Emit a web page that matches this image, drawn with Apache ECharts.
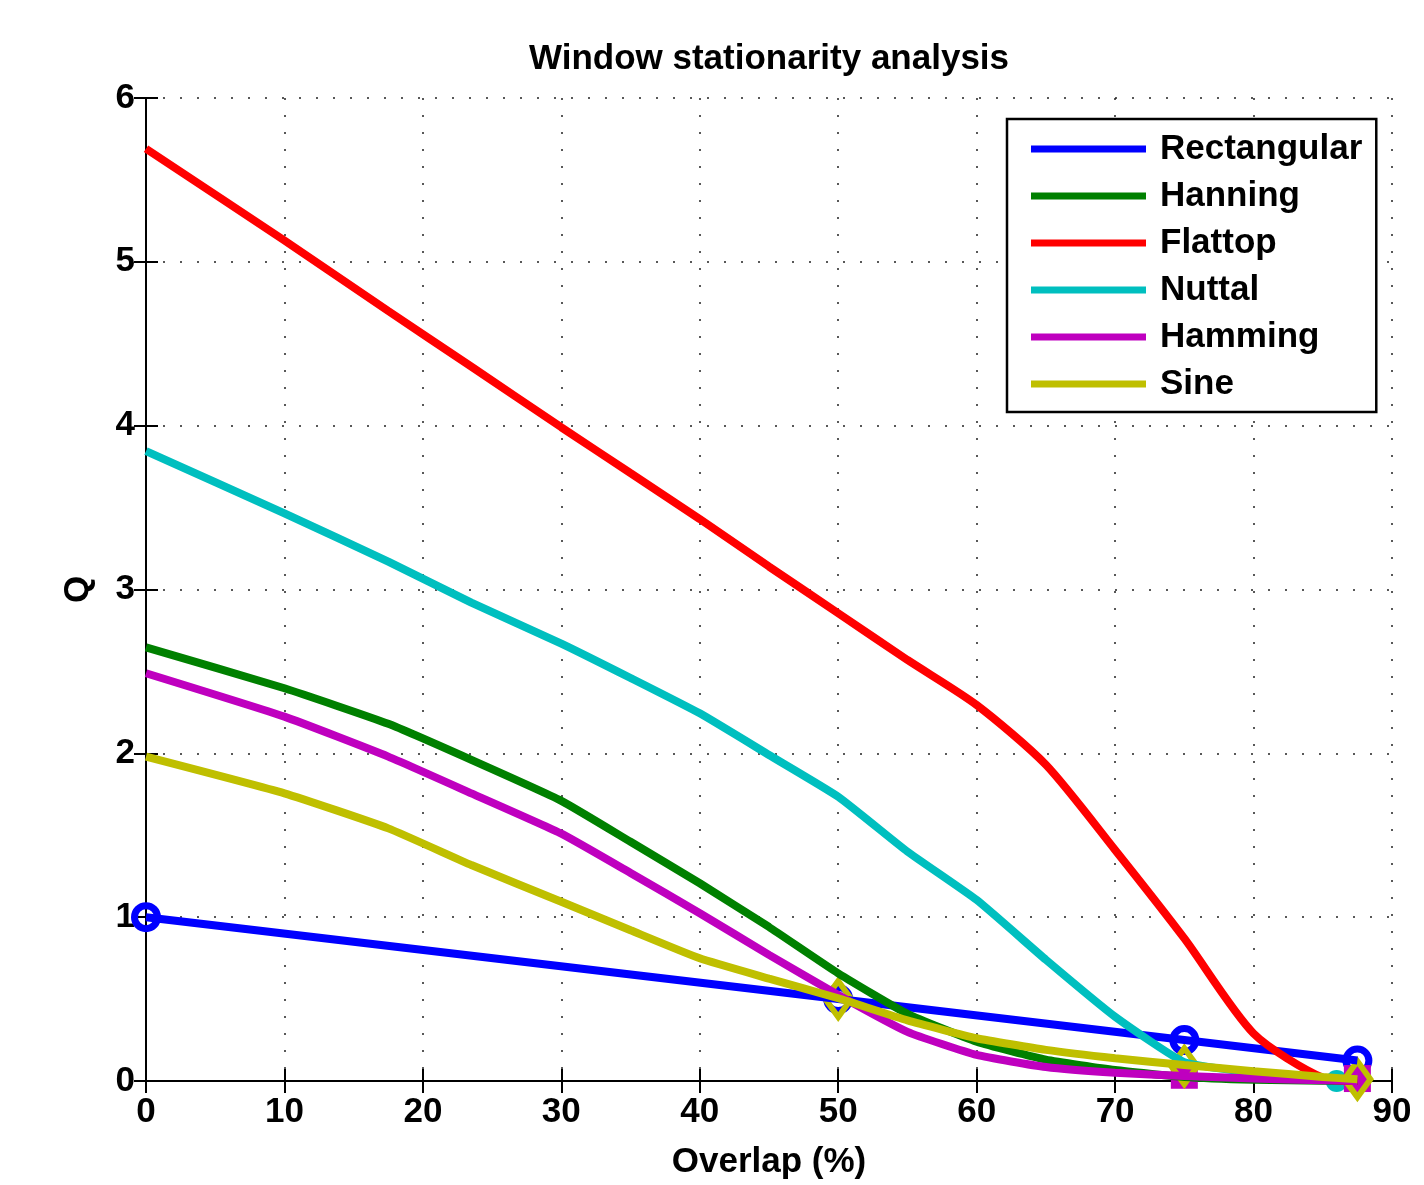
<!DOCTYPE html>
<html>
<head>
<meta charset="utf-8">
<script src="https://cdn.jsdelivr.net/npm/echarts@6/dist/echarts.min.js"></script>
<style>
  html, body { margin: 0; padding: 0; background: #fff; }
  #main { width: 1424px; height: 1185px; }
</style>
</head>
<body>
<div id="main"></div>
<script>
// overlap values (%) where the curves were read
var overlap = [0, 10, 17.5, 23.5, 30, 35, 40, 45, 50, 55, 60, 65, 70, 75, 80, 85, 87.5];

var rectX = [0, 50, 75, 87.5];
var rectQ = [1, 0.5, 0.25, 0.125];
var hanningQ = [2.647, 2.397, 2.18, 1.96, 1.71, 1.46, 1.207, 0.94, 0.657, 0.41, 0.24, 0.13, 0.067, 0.025, 0.008, 0.002, 0];
var flattopQ = [5.69, 5.13, 4.70, 4.36, 3.99, 3.71, 3.43, 3.14, 2.855, 2.57, 2.295, 1.93, 1.41, 0.87, 0.29, 0.02, 0];
var nuttalQ = [3.845, 3.465, 3.17, 2.92, 2.67, 2.46, 2.244, 1.99, 1.735, 1.40, 1.105, 0.74, 0.392, 0.115, 0.05, 0.01, null];
var hammingQ = [2.489, 2.224, 1.98, 1.756, 1.51, 1.27, 1.024, 0.77, 0.525, 0.30, 0.159, 0.085, 0.05, 0.03, 0.015, 0.005, 0];
var sineQ = [1.98, 1.756, 1.542, 1.318, 1.094, 0.92, 0.749, 0.625, 0.505, 0.37, 0.261, 0.19, 0.139, 0.098, 0.06, 0.025, 0.01];

// marker positions
var nuttalMarkX = [86];
var nuttalMarkQ = [0];
var hammingMarkX = [75, 87.5];
var hammingMarkQ = [0.035, 0.015];
var sineMarkX = [50, 75, 87.5];
var sineMarkQ = [0.5, 0.09, 0.01];

var names = ['Rectangular', 'Hanning', 'Flattop', 'Nuttal', 'Hamming', 'Sine'];
var colors = ['#0000ff', '#008000', '#ff0000', '#00bfbf', '#bf00bf', '#bfbf00'];

var xTicks = [0, 10, 20, 30, 40, 50, 60, 70, 80, 90];
var yTicks = [0, 1, 2, 3, 4, 5, 6];

var FONT = 'Liberation Sans';

function pairs(xs, ys) {
  return xs.map(function (x, i) { return [x, ys[i]]; });
}

function lineSeries(name, color, data, smooth) {
  return {
    name: name,
    type: 'line',
    data: data,
    showSymbol: false,
    symbol: 'none',
    smooth: smooth,
    lineStyle: { color: color, width: 8 },
    itemStyle: { color: color },
    emphasis: { disabled: true },
    clip: false
  };
}

function markSeries(id, data, symbol, size, fill, border, bw) {
  return {
    name: id,
    type: 'scatter',
    data: data,
    symbol: symbol,
    symbolSize: size,
    itemStyle: { color: fill, borderColor: border, borderWidth: bw, opacity: 1 },
    emphasis: { disabled: true },
    clip: false
  };
}

var axisCommon = {
  type: 'value',
  axisLine: { show: true, lineStyle: { color: '#000', width: 2 } },
  axisTick: { show: true, inside: true, length: 12, lineStyle: { color: '#000', width: 2 } }
};

var myChart = echarts.init(document.getElementById('main'));
myChart.setOption({
  backgroundColor: '#fff',
  animation: false,
  title: {
    text: 'Window stationarity analysis',
    left: 764,
    textAlign: 'center',
    top: 37,
    textStyle: { fontFamily: FONT, fontSize: 35, fontWeight: 'bold', color: '#000' }
  },
  legend: {
    data: names,
    orient: 'vertical',
    left: 1007,
    top: 119,
    icon: 'rect',
    itemWidth: 115,
    itemHeight: 7,
    itemGap: 7,
    padding: [10, 14, 8, 24],
    backgroundColor: '#fff',
    borderColor: '#000',
    borderWidth: 2.5,
    textStyle: { fontFamily: FONT, fontSize: 35, fontWeight: 'bold', color: '#000', lineHeight: 40, padding: [0, 0, 0, 9] }
  },
  grid: { left: 146, right: 32, top: 98, bottom: 104 },
  xAxis: [
    Object.assign({}, axisCommon, {
      min: 0, max: 90, interval: 10,
      position: 'bottom',
      name: 'Overlap (%)',
      nameLocation: 'middle',
      nameGap: 64,
      nameTextStyle: { fontFamily: FONT, fontSize: 35, fontWeight: 'bold', color: '#000' },
      axisLabel: { fontFamily: FONT, fontSize: 35, fontWeight: 'bold', color: '#000', margin: 14,
        formatter: function (v) { return xTicks.indexOf(v) >= 0 ? String(v) : ''; } },
      splitLine: { show: true, lineStyle: { color: '#222', width: 1.5, type: [2, 15] } }
    }),
    Object.assign({}, axisCommon, {
      min: 0, max: 90, interval: 10,
      position: 'top',
      axisLabel: { show: false },
      splitLine: { show: false }
    })
  ],
  yAxis: [
    Object.assign({}, axisCommon, {
      min: 0, max: 6, interval: 1,
      position: 'left',
      name: 'Q',
      nameLocation: 'middle',
      nameRotate: 90,
      nameGap: 50,
      nameTextStyle: { fontFamily: FONT, fontSize: 35, fontWeight: 'bold', color: '#000' },
      axisLabel: { fontFamily: FONT, fontSize: 35, fontWeight: 'bold', color: '#000', margin: 11,
        formatter: function (v) { return yTicks.indexOf(v) >= 0 ? String(v) : ''; } },
      splitLine: { show: true, lineStyle: { color: '#222', width: 1.5, type: [2, 15] } }
    }),
    Object.assign({}, axisCommon, {
      min: 0, max: 6, interval: 1,
      position: 'right',
      axisLabel: { show: false },
      splitLine: { show: false }
    })
  ],
  series: [
    lineSeries('Rectangular', colors[0], pairs(rectX, rectQ), false),
    markSeries('rectMarks', pairs(rectX, rectQ), 'circle', 23, 'rgba(0,0,0,0)', colors[0], 7),
    lineSeries('Hanning', colors[1], pairs(overlap, hanningQ), 0.15),
    lineSeries('Flattop', colors[2], pairs(overlap, flattopQ), 0.25),
    lineSeries('Nuttal', colors[3], pairs(overlap, nuttalQ), 0.15),
    markSeries('nuttalMarks', pairs(nuttalMarkX, nuttalMarkQ), 'circle', 22, colors[3], colors[3], 0),
    lineSeries('Hamming', colors[4], pairs(overlap, hammingQ), 0.15),
    markSeries('hammingMarks', pairs(hammingMarkX, hammingMarkQ), 'rect', 27, colors[4], colors[4], 0),
    lineSeries('Sine', colors[5], pairs(overlap, sineQ), 0.15),
    markSeries('sineMarks', pairs(sineMarkX, sineMarkQ), 'diamond', [26, 36], 'rgba(0,0,0,0)', colors[5], 6)
  ]
});
</script>
</body>
</html>
